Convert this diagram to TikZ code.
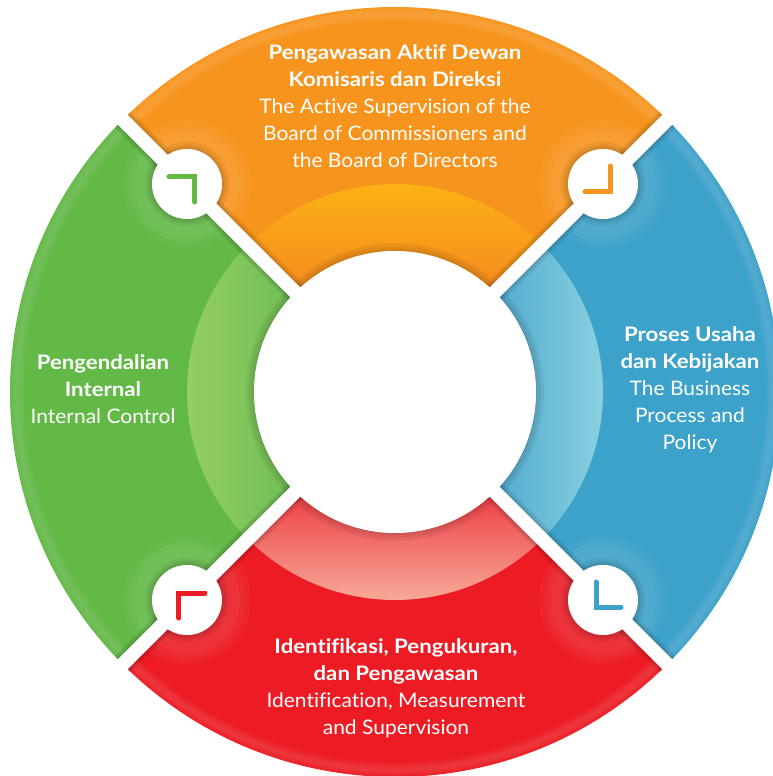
\documentclass[tikz,border=0pt]{standalone}
\usepackage{fontspec}
\setmainfont{Lato}[FakeStretch=1.05,Ligatures=NoCommon]
\newfontfamily\boldfam{Lato}[FakeStretch=1.11,Ligatures=NoCommon]
\definecolor{orangeB}{HTML}{F7941D}
\definecolor{orangeT}{HTML}{FDB913}
\definecolor{orangeD}{HTML}{F58A1F}
\definecolor{greenB}{HTML}{62B946}
\definecolor{greenL}{HTML}{9BD067}
\definecolor{blueB}{HTML}{3DA2CA}
\definecolor{blueL}{HTML}{96D7E3}
\definecolor{redB}{HTML}{ED1C24}
\definecolor{redL}{HTML}{F8BDA6}
\definecolor{redM}{HTML}{EE3D45}
\newcommand{\hd}[1]{{\boldfam\bfseries #1}}
\begin{document}
\begin{tikzpicture}[x=1pt,y=1pt,
  gapshade/.style={draw=black,line width=#1,opacity=0.05},
  gapline/.style={draw=white,line width=14pt},
  smallcirc/.style={circle,fill=white,minimum size=70pt,inner sep=0pt},
  iconline/.style={line width=5pt,line cap=round,line join=miter},
  labeltext/.style={text=white,align=center,font=\fontsize{20}{27}\selectfont},
]
\useasboundingbox (-395,-384) rectangle (378,392);
\clip (-395,-384) rectangle (378,392);
\coordinate (ctr) at (0,0);
% ring sectors
\fill[orangeB] (45:385pt) arc[start angle=45,end angle=135,radius=385pt] -- (135:141pt) arc[start angle=135,end angle=45,radius=141pt] -- cycle;
\fill[greenB] (135:385pt) arc[start angle=135,end angle=225,radius=385pt] -- (225:141pt) arc[start angle=225,end angle=135,radius=141pt] -- cycle;
\fill[redB] (225:385pt) arc[start angle=225,end angle=315,radius=385pt] -- (315:141pt) arc[start angle=315,end angle=225,radius=141pt] -- cycle;
\fill[blueB] (-45:385pt) arc[start angle=-45,end angle=45,radius=385pt] -- (45:141pt) arc[start angle=45,end angle=-45,radius=141pt] -- cycle;
% inner glow ring
\shade[top color=orangeT,bottom color=orangeD] (45:208pt) arc[start angle=45,end angle=135,radius=208pt] -- (135:141pt) arc[start angle=135,end angle=45,radius=141pt] -- cycle;
\shade[left color=greenL,right color=greenB!92!white] (135:208pt) arc[start angle=135,end angle=225,radius=208pt] -- (225:141pt) arc[start angle=225,end angle=135,radius=141pt] -- cycle;
\shade[bottom color=redL,top color=redM] (225:208pt) arc[start angle=225,end angle=315,radius=208pt] -- (315:141pt) arc[start angle=315,end angle=225,radius=141pt] -- cycle;
\shade[right color=blueL,left color=blueB!90!white] (-45:208pt) arc[start angle=-45,end angle=45,radius=208pt] -- (45:141pt) arc[start angle=45,end angle=-45,radius=141pt] -- cycle;
% gaps
\coordinate (ga) at (135:420pt);
\coordinate (gb) at (-45:420pt);
\coordinate (gc) at (45:420pt);
\coordinate (gd) at (225:420pt);
\coordinate (ptl) at (-208,208);
\coordinate (ptr) at (208,208);
\coordinate (pbl) at (-208,-208);
\coordinate (pbr) at (208,-208);
\begin{scope}
\clip (ctr) circle[radius=385pt];
% soft outer highlight
\foreach \w in {14pt,9pt,5pt}{
  \draw[white,opacity=0.04,line width=\w] (ctr) circle[radius=378pt];
}
% soft halos around small circles
\foreach \p in {ptl,ptr,pbl,pbr}{
  \foreach \r in {64pt,58pt,53pt}{
    \fill[white,opacity=0.035] (\p) circle[radius=\r];
  }
}
\foreach \w in {24pt,21pt,18pt,16pt}{
  \draw[gapshade=\w] (ga) -- (gb);
  \draw[gapshade=\w] (gc) -- (gd);
}
\foreach \r in {149pt,146pt,143pt}{
  \fill[black,opacity=0.05] (ctr) circle[radius=\r];
}
\foreach \p in {ptl,ptr,pbl,pbr}{
  \foreach \r in {42pt,39pt,37pt}{
    \fill[black,opacity=0.05] (\p) circle[radius=\r];
  }
}
\end{scope}
\draw[gapline] (ga) -- (gb);
\draw[gapline] (gc) -- (gd);
% inner circle
\node[circle,fill=white,minimum size=282pt,inner sep=0pt] (hole) at (ctr) {};
% small circles
\node[smallcirc] (ctl) at (ptl) {};
\node[smallcirc] (ctr2) at (ptr) {};
\node[smallcirc] (cbl) at (pbl) {};
\node[smallcirc] (cbr) at (pbr) {};
% icons
\draw[iconline,greenB,shift={(ctl.center)}] (-18,7) -- (8,7) -- (8,-18);
\draw[iconline,orangeB,shift={(ctr2.center)}] (7,18) -- (7,-8) -- (-18,-8);
\draw[iconline,redB,shift={(cbl.center)}] (18,7) -- (-8,7) -- (-8,-18);
\draw[iconline,blueB,shift={(cbr.center)}] (-7,18) -- (-7,-7) -- (18,-7);
% texts
\node[labeltext] (ttop) at (0,286) {\hd{Pengawasan Aktif Dewan}\\\hd{Komisaris dan Direksi}\\The Active Supervision of the\\Board of Commissioners and\\the Board of Directors};
\node[labeltext] (tleft) at (-292,3) {\hd{Pengendalian}\\\hd{Internal}\\Internal Control};
\node[labeltext] (tright) at (295,2) {\hd{Proses Usaha}\\\hd{dan Kebijakan}\\The Business\\Process and\\Policy};
\node[labeltext] (tbot) at (1,-296) {\hd{Identifikasi, Pengukuran,}\\\hd{dan Pengawasan}\\Identification, Measurement\\and Supervision};
\end{tikzpicture}
\end{document}
